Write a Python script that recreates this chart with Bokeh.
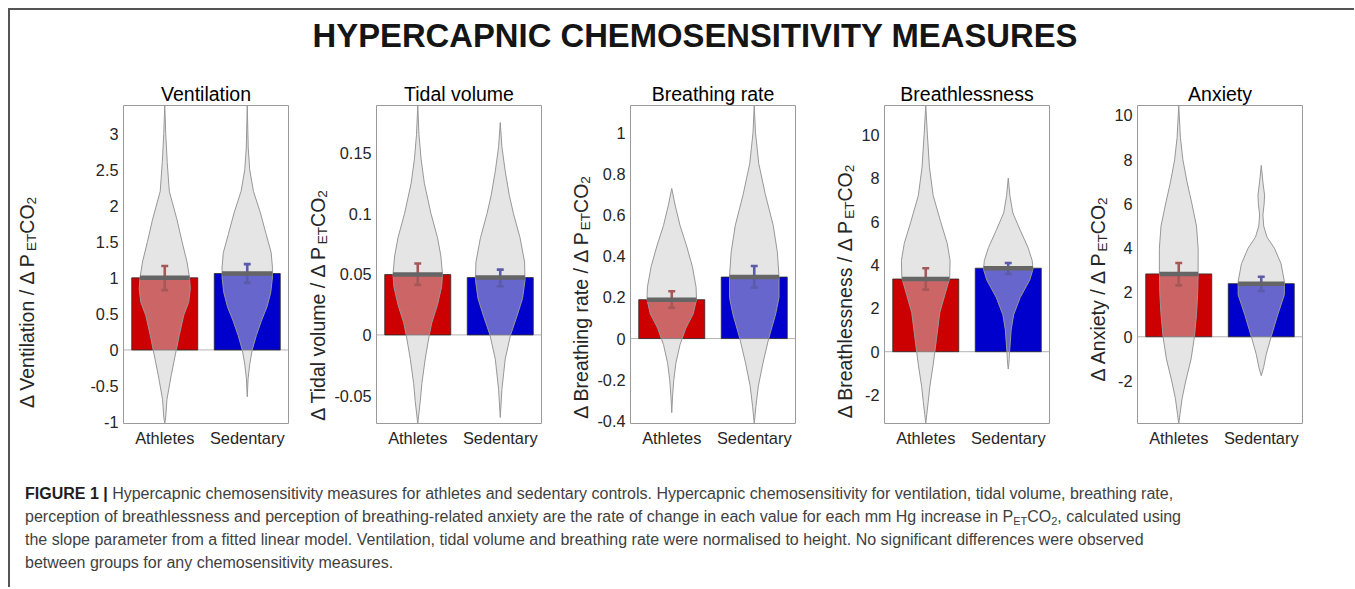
import numpy as np
from bokeh.plotting import figure
from bokeh.layouts import row, column
from bokeh.models import Div, Span, FixedTicker, Range1d, CustomJSTickFormatter
from bokeh.core.properties import value
from bokeh.embed import file_html
from bokeh.resources import INLINE

# ---------------- data ----------------
main_title = "HYPERCAPNIC CHEMOSENSITIVITY MEASURES"
groups = ["Athletes", "Sedentary"]
panel_titles = ["Ventilation", "Tidal volume", "Breathing rate", "Breathlessness", "Anxiety"]

# group means (bar heights) and error-bar ends
vent_mean = [1.00, 1.06]
vent_lo = [0.83, 0.93]
vent_hi = [1.165, 1.19]
tv_mean = [0.0497, 0.0472]
tv_lo = [0.0412, 0.0401]
tv_hi = [0.0588, 0.0538]
br_mean = [0.189, 0.299]
br_lo = [0.149, 0.248]
br_hi = [0.230, 0.353]
bl_mean = [3.35, 3.85]
bl_lo = [2.86, 3.58]
bl_hi = [3.85, 4.09]
ax_mean = [2.84, 2.40]
ax_lo = [2.32, 2.07]
ax_hi = [3.33, 2.71]

# y-axis limits and ticks
vent_lim = [-1.02, 3.39]
tv_lim = [-0.073, 0.189]
br_lim = [-0.413, 1.133]
bl_lim = [-3.31, 11.35]
ax_lim = [-3.92, 10.45]
vent_ticks = [-1, -0.5, 0, 0.5, 1, 1.5, 2, 2.5, 3]
tv_ticks = [-0.05, 0, 0.05, 0.1, 0.15]
br_ticks = [-0.4, -0.2, 0, 0.2, 0.4, 0.6, 0.8, 1]
bl_ticks = [-2, 0, 2, 4, 6, 8, 10]
ax_ticks = [-2, 0, 2, 4, 6, 8, 10]

# violin outlines: value levels and half-widths (x units)
vent_ath_y = [3.39, 3.0, 2.6, 2.2, 1.8, 1.5, 1.22, 1.0, 0.85, 0.66, 0.48, 0.2, 0.0, -0.36, -0.69, -0.93, -1.02]
vent_ath_w = [0.0, 0.012, 0.03, 0.055, 0.15, 0.21, 0.27, 0.30, 0.31, 0.29, 0.23, 0.175, 0.14, 0.077, 0.026, 0.012, 0.0]
vent_sed_y = [3.39, 2.8, 2.5, 2.2, 1.9, 1.6, 1.35, 1.15, 1.0, 0.8, 0.6, 0.4, 0.2, 0.0, -0.2, -0.4, -0.65]
vent_sed_w = [0.0, 0.012, 0.03, 0.075, 0.16, 0.23, 0.29, 0.305, 0.305, 0.285, 0.24, 0.17, 0.11, 0.06, 0.03, 0.01, 0.0]

tv_ath_y = [0.189, 0.165, 0.145, 0.125, 0.1, 0.08, 0.065, 0.05, 0.04, 0.025, 0.01, 0.0, -0.02, -0.04, -0.055, -0.073]
tv_ath_w = [0.0, 0.015, 0.04, 0.08, 0.16, 0.24, 0.28, 0.30, 0.29, 0.24, 0.17, 0.14, 0.09, 0.05, 0.03, 0.0]
tv_sed_y = [0.175, 0.155, 0.135, 0.115, 0.1, 0.08, 0.06, 0.045, 0.03, 0.015, 0.0, -0.02, -0.045, -0.068]
tv_sed_w = [0.0, 0.02, 0.06, 0.11, 0.16, 0.24, 0.295, 0.30, 0.27, 0.2, 0.125, 0.06, 0.02, 0.0]

br_ath_y = [0.73, 0.65, 0.55, 0.45, 0.35, 0.25, 0.19, 0.12, 0.05, -0.03, -0.12, -0.2, -0.28, -0.36]
br_ath_w = [0.0, 0.04, 0.1, 0.18, 0.25, 0.295, 0.30, 0.26, 0.17, 0.1, 0.05, 0.025, 0.01, 0.0]
br_sed_y = [1.133, 1.0, 0.85, 0.7, 0.55, 0.42, 0.3, 0.2, 0.12, 0.0, -0.12, -0.23, -0.33, -0.413]
br_sed_w = [0.0, 0.015, 0.055, 0.135, 0.23, 0.28, 0.30, 0.30, 0.26, 0.175, 0.105, 0.05, 0.02, 0.0]

bl_ath_y = [11.35, 10.0, 8.5, 7.2, 6.0, 5.0, 4.2, 3.4, 2.6, 1.8, 0.6, -0.6, -1.6, -2.3, -2.9, -3.31]
bl_ath_w = [0.0, 0.02, 0.045, 0.09, 0.18, 0.26, 0.295, 0.29, 0.23, 0.17, 0.13, 0.09, 0.05, 0.03, 0.012, 0.0]
bl_sed_y = [8.0, 7.2, 6.4, 5.6, 4.8, 4.2, 3.8, 3.3, 2.5, 1.7, 1.0, 0.0, -0.55, -0.8]
bl_sed_w = [0.0, 0.02, 0.055, 0.145, 0.24, 0.29, 0.30, 0.26, 0.145, 0.065, 0.035, 0.016, 0.008, 0.0]

ax_ath_y = [10.45, 9.0, 8.0, 7.0, 6.0, 5.0, 4.0, 3.0, 2.0, 1.0, 0.0, -1.0, -2.0, -2.8, -3.5, -3.92]
ax_ath_w = [0.0, 0.02, 0.05, 0.1, 0.16, 0.215, 0.235, 0.235, 0.23, 0.215, 0.19, 0.15, 0.085, 0.04, 0.015, 0.0]
ax_sed_y = [7.74, 7.0, 6.4, 6.0, 5.5, 5.0, 4.5, 4.0, 3.3, 2.5, 1.9, 1.0, 0.0, -0.8, -1.4, -1.76]
ax_sed_w = [0.0, 0.02, 0.04, 0.035, 0.02, 0.03, 0.07, 0.16, 0.24, 0.28, 0.28, 0.2, 0.12, 0.06, 0.028, 0.0]

caption_lines = [
    "Hypercapnic chemosensitivity measures for athletes and sedentary controls. Hypercapnic chemosensitivity for ventilation, tidal volume, breathing rate,",
    "perception of breathlessness and perception of breathing-related anxiety are the rate of change in each value for each mm Hg increase in P<sub>ET</sub>CO<sub>2</sub>, calculated using",
    "the slope parameter from a fitted linear model. Ventilation, tidal volume and breathing rate were normalised to height. No significant differences were observed",
    "between groups for any chemosensitivity measures.",
]

# ---------------- styling / layout ----------------
FONT = "Liberation Sans"
BAR_COLORS = ["#cc0000", "#0000cc"]
ERR_COLORS = ["#a65757", "#5b5ba9"]
FRAME_W, FRAME_H = 165, 318
TOP_B, BOT_B = 34, 40
FIG_H = TOP_B + FRAME_H + BOT_B
LAB_FS, SUB_FS, SUB_DX = 19.5, 13.5, 4.5

ARIAL = {' ': .278, '/': .278, 'Δ': .668, '-': .333, '.': .278}
for c, w in zip("ABCDEFGHIJKLMNOPQRSTUVWXYZ",
                [.667, .667, .722, .722, .667, .611, .778, .722, .278, .5, .667, .556, .833, .722, .778, .667, .778, .722, .667, .611, .722, .667, .944, .667, .667, .611]):
    ARIAL[c] = w
for c, w in zip("abcdefghijklmnopqrstuvwxyz",
                [.556, .556, .5, .556, .556, .278, .556, .556, .222, .222, .5, .222, .833, .556, .556, .556, .556, .333, .5, .278, .556, .5, .722, .5, .5, .5]):
    ARIAL[c] = w


def text_w(s, size):
    return sum(ARIAL.get(c, .556) for c in s) * size


panels = [
    dict(title=panel_titles[0], name="Ventilation", lim=vent_lim, ticks=vent_ticks, mean=vent_mean, lo=vent_lo, hi=vent_hi,
         viol=[(vent_ath_y, vent_ath_w), (vent_sed_y, vent_sed_w)], left=113, axis_b=38, lab_x=-97, lab_shift=-4),
    dict(title=panel_titles[1], name="Tidal volume", lim=tv_lim, ticks=tv_ticks, mean=tv_mean, lo=tv_lo, hi=tv_hi,
         viol=[(tv_ath_y, tv_ath_w), (tv_sed_y, tv_sed_w)], left=86, axis_b=46, lab_x=-59, lab_shift=-7),
    dict(title=panel_titles[2], name="Breathing rate", lim=br_lim, ticks=br_ticks, mean=br_mean, lo=br_lo, hi=br_hi,
         viol=[(br_ath_y, br_ath_w), (br_sed_y, br_sed_w)], left=86, axis_b=35, lab_x=-49, lab_shift=1),
    dict(title=panel_titles[3], name="Breathlessness", lim=bl_lim, ticks=bl_ticks, mean=bl_mean, lo=bl_lo, hi=bl_hi,
         viol=[(bl_ath_y, bl_ath_w), (bl_sed_y, bl_sed_w)], left=87, axis_b=28, lab_x=-40, lab_shift=7),
    dict(title=panel_titles[4], name="Anxiety", lim=ax_lim, ticks=ax_ticks, mean=ax_mean, lo=ax_lo, hi=ax_hi,
         viol=[(ax_ath_y, ax_ath_w), (ax_sed_y, ax_sed_w)], left=86, axis_b=28, lab_x=-40, lab_shift=9),
]

xpos = [i + 1 for i in range(len(groups))]
xlo, xhi = 0.5, len(groups) + 0.5


def label_figure(pn):
    """Narrow figure that carries the rotated y-axis title with sub-scripts."""
    w = pn["left"] - pn["axis_b"]
    lf = figure(frame_width=w, frame_height=FIG_H, x_range=Range1d(0, w), y_range=Range1d(0, FIG_H),
                output_backend="svg", toolbar_location=None, title=None, min_border=0)
    lf.axis.visible = False
    lf.grid.grid_line_color = None
    lf.outline_line_color = None
    lf.background_fill_color = "white"
    lf.border_fill_color = "white"
    base = w + pn["axis_b"] + pn["lab_x"]
    cy = BOT_B + FRAME_H / 2 + pn["lab_shift"]
    parts = [(f"Δ {pn['name']} / Δ P", LAB_FS, 0), ("ET", SUB_FS, SUB_DX), ("CO", LAB_FS, 0), ("2", SUB_FS, SUB_DX)]
    total = sum(text_w(s, fs) for s, fs, _ in parts)
    pos = cy - total / 2
    for s, fs, dx in parts:
        lf.text(x=[base + dx], y=[pos], text=[s], angle=np.pi / 2, text_align="left",
                text_baseline="alphabetic", text_font=value(FONT), text_font_size=f"{fs}px",
                text_color="#262626")
        pos += text_w(s, fs)
    return lf


children = []
for pn in panels:
    ylo, yhi = pn["lim"]
    p = figure(frame_width=FRAME_W, frame_height=FRAME_H, x_range=Range1d(xlo, xhi), y_range=Range1d(ylo, yhi),
               output_backend="svg", toolbar_location=None, title=pn["title"],
               min_border_left=pn["axis_b"], min_border_right=2, min_border_top=TOP_B, min_border_bottom=BOT_B)
    p.title.align = "center"
    p.title.text_font = FONT
    p.title.text_font_size = "19.5px"
    p.title.text_font_style = "normal"
    p.title.text_color = "#000000"
    p.title.standoff = 2
    p.background_fill_color = "white"
    p.border_fill_color = "white"
    p.outline_line_color = "#9a9a9a"
    p.outline_line_width = 1
    p.xgrid.grid_line_color = None
    p.ygrid.grid_line_color = None

    for ax in (p.xaxis[0], p.yaxis[0]):
        ax.axis_line_color = None
        ax.major_tick_line_color = None
        ax.minor_tick_line_color = None
        ax.major_tick_out = 0
        ax.major_tick_in = 0
        ax.minor_tick_out = 0
        ax.major_label_text_font = FONT
        ax.major_label_text_color = "#262626"
    p.yaxis.ticker = FixedTicker(ticks=pn["ticks"])
    p.yaxis.formatter = CustomJSTickFormatter(code="return String(Math.round(tick*1000)/1000);")
    p.yaxis.major_label_text_font_size = "16.3px"
    p.yaxis.major_label_standoff = 5
    p.xaxis.ticker = FixedTicker(ticks=xpos)
    p.xaxis.major_label_overrides = {x: g for x, g in zip(xpos, groups)}
    p.xaxis.major_label_text_font_size = "16.4px"
    p.xaxis.major_label_standoff = 5

    p.add_layout(Span(location=0, dimension="width", line_color="#b4b4b4", line_width=1, level="underlay"))

    # bars
    p.vbar(x=xpos, top=pn["mean"], bottom=0, width=0.8, fill_color=BAR_COLORS,
           line_color="#2a2a2a", line_width=0.8)

    # violins
    for xc, (vy, vw) in zip(xpos, pn["viol"]):
        vy = np.asarray(vy, dtype=float)
        vw = np.asarray(vw, dtype=float)
        px = np.concatenate([xc + vw, (xc - vw)[::-1]])
        py = np.concatenate([vy, vy[::-1]])
        p.patch(px, py, fill_color="#cccccc", fill_alpha=0.5, line_color="#979797", line_width=1)

    # error bars
    cap = 0.042
    for xc, lo, hi, col in zip(xpos, pn["lo"], pn["hi"], ERR_COLORS):
        p.segment(x0=[xc, xc - cap, xc - cap], y0=[lo, lo, hi], x1=[xc, xc + cap, xc + cap], y1=[hi, lo, hi],
                  line_color=col, line_width=2.6)

    # mean lines spanning the violin width
    for xc, m, (vy, vw) in zip(xpos, pn["mean"], pn["viol"]):
        hw = float(np.interp(m, np.asarray(vy)[::-1], np.asarray(vw)[::-1]))
        p.segment(x0=[xc - hw], y0=[m], x1=[xc + hw], y1=[m], line_color="#656565", line_width=4.5)

    children.append(label_figure(pn))
    children.append(p)

title_div = Div(
    text=(f'<div style="font-family:\'{FONT}\',Arial,sans-serif;font-weight:bold;font-size:32.8px;line-height:32px;'
          f'color:#151515;text-align:center;width:1344px;padding-left:26px;padding-top:10px;box-sizing:border-box;'
          f'white-space:nowrap">{main_title}</div>'),
    width=1344, height=61, margin=0)

cap_html = "<br>".join(
    [f'<b style="color:#1e1e1e">FIGURE 1 |</b> {caption_lines[0]}'] + caption_lines[1:])
cap_html = cap_html.replace("<sub>", '<sub style="font-size:11px;line-height:0;vertical-align:-3px">')
caption_div = Div(
    text=(f'<div style="font-family:\'{FONT}\',Arial,sans-serif;font-size:16px;line-height:23px;color:#3f3f3f;'
          f'white-space:nowrap;padding-left:15px;padding-top:19px">{cap_html}</div>'),
    width=1344, height=124, margin=0)

layout = column(title_div, row(*children, spacing=0), caption_div, spacing=0,
                styles={"border-top": "2px solid #555555", "border-left": "2px solid #555555",
                        "background-color": "white", "margin-left": "8px", "margin-top": "8px"})

open("out.html", "w").write(file_html(layout, INLINE))
